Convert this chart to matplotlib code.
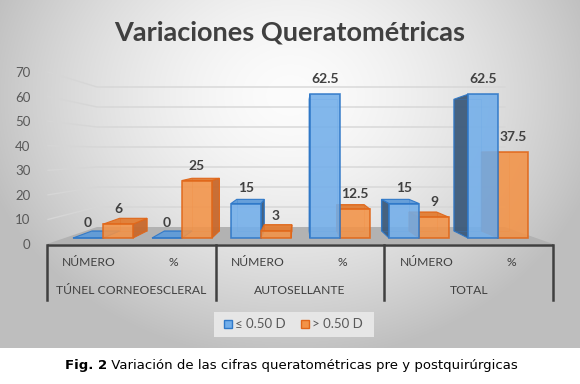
import numpy as np
import matplotlib
matplotlib.use("Agg")
import matplotlib.pyplot as plt
from matplotlib.patches import Polygon, Rectangle

# ---------------- data ----------------
title = "Variaciones Queratométricas"
sub_labels = ["NÚMERO", "%", "NÚMERO", "%", "NÚMERO", "%"]
group_labels = ["TÚNEL CORNEOESCLERAL", "AUTOSELLANTE", "TOTAL"]
series_names = ["≤ 0.50 D", "> 0.50 D"]
low_vals = [0, 0, 15, 62.5, 15, 62.5]       # ≤ 0.50 D
high_vals = [6, 25, 3, 12.5, 9, 37.5]        # > 0.50 D
value_labels_low = ["0", "0", "15", "62.5", "15", "62.5"]
value_labels_high = ["6", "25", "3", "12.5", "9", "37.5"]
y_ticks = [0, 10, 20, 30, 40, 50, 60, 70]
caption_bold = "Fig. 2"
caption_rest = " Variación de las cifras queratométricas pre y postquirúrgicas"

# ---------------- styling ----------------
W, H = 580, 384
FONT = "Lato"
TXT = "#404040"
TICK = "#595959"
BLUE_F, BLUE_E, BLUE_TOP, BLUE_SIDE = "#72aeea", "#2f78c8", "#5f9bd9", "#3d5b7b"
ORNG_F, ORNG_E, ORNG_TOP, ORNG_SIDE = "#f39347", "#e0671a", "#e27d33", "#c7682c"

fig = plt.figure(figsize=(W / 100, H / 100), dpi=100)
fig.patch.set_facecolor("white")


def fx(px):
    return px / W


def fy(py):
    return 1 - py / H


# background gradient (chart area)
CH = 348
bg = fig.add_axes([0, fy(CH), 1, CH / H], zorder=0)
yy, xx = np.mgrid[0:CH, 0:W]
d = np.sqrt(((xx - 290) / 360.0) ** 2 + ((yy - 95) / 300.0) ** 2)
v = np.clip(252 - 75 * d ** 1.6, 190, 252) / 255.0
bg.imshow(np.dstack([v, v, v]), aspect="auto", extent=(0, W, CH, 0))
bg.set_xlim(0, W)
bg.set_ylim(CH, 0)
bg.axis("off")

# decoration axes in pixel coordinates
axd = fig.add_axes([0, 0, 1, 1], zorder=1)
axd.set_xlim(0, W)
axd.set_ylim(H, 0)
axd.axis("off")
axd.patch.set_alpha(0)

# front frame axes (tick labels)
FX0, FX1, FY0, FY1 = 47, 553, 244, 72
axf = fig.add_axes([fx(FX0), fy(FY0), fx(FX1) - fx(FX0), (FY0 - FY1) / H], zorder=2)
axf.set_xlim(0, 6)
axf.set_ylim(0, 70)
axf.patch.set_alpha(0)
for s in axf.spines.values():
    s.set_visible(False)
axf.set_xticks([])
axf.set_yticks(y_ticks)
axf.set_yticklabels([str(t) for t in y_ticks], fontsize=9.5, color=TICK, family=FONT)
axf.tick_params(axis="y", length=0, pad=12)

# back wall axes
WX0, WX1, WY0, WY1 = 97, 505, 227, 87
axw = fig.add_axes([fx(WX0), fy(WY0), fx(WX1) - fx(WX0), (WY0 - WY1) / H], zorder=1)
axw.set_xlim(0, 1)
axw.set_ylim(0, 70)
axw.axis("off")
axw.patch.set_alpha(0)

# bar axes
BX0, BX1, BY0, BSC = 63.5, 537.5, 238, 2.30
axb = fig.add_axes([fx(BX0), fy(BY0), fx(BX1) - fx(BX0), 70 * BSC / H], zorder=3)
axb.set_xlim(-0.5, 5.5)
axb.set_ylim(0, 70)
axb.axis("off")
axb.patch.set_alpha(0)

to_pix = axd.transData.inverted()

# gridlines on back wall + left wall diagonals
for t in y_ticks:
    a = axf.transData.transform((0, t))
    b = axw.transData.transform((0, t))
    c = axw.transData.transform((1, t))
    pa, pb, pc = to_pix.transform([a, b, c])
    if t > 0:
        axd.plot([pa[0] + 1, pb[0], pc[0]], [pa[1], pb[1], pc[1]], color="#d6d6d6", lw=1.0)

# floor
fl = to_pix.transform([
    axf.transData.transform((0, 0)),
    axf.transData.transform((6, 0)),
    axw.transData.transform((1, 0)),
    axw.transData.transform((0, 0)),
])
axd.add_patch(Polygon(fl, closed=True, facecolor="#b2b2b2", edgecolor="none"))

# axis lines below floor and dividers
trf = axf.get_xaxis_transform()
axf.plot([0, 6], [-0.006, -0.006], transform=trf, color=TXT, lw=1.8, clip_on=False,
         solid_capstyle="butt")
for xd in [0, 2, 4, 6]:
    axf.plot([xd, xd], [-0.006, -0.326], transform=trf, color=TXT, lw=1.8, clip_on=False)
for i, lab in enumerate(sub_labels):
    axf.text(i + 0.5, -0.11, lab, transform=trf, ha="center", va="center",
             fontsize=8.7, color=TXT, family=FONT)
for g, lab in enumerate(group_labels):
    axf.text(2 * g + 1, -0.273, lab, transform=trf, ha="center", va="center",
             fontsize=8.7, color=TXT, family=FONT)

# ---------------- 3D-ish bars ----------------
BW = 0.38
VP = np.array([300.0, H - 154.0])   # vanishing point in display coords
S = 0.916
x = np.arange(len(sub_labels))

bars = []
for i in range(len(x)):
    bars.append((x[i] - BW / 2, low_vals[i], BLUE_F, BLUE_E, BLUE_TOP, BLUE_SIDE, value_labels_low[i]))
    bars.append((x[i] + BW / 2, high_vals[i], ORNG_F, ORNG_E, ORNG_TOP, ORNG_SIDE, value_labels_high[i]))

inv = axb.transData.inverted()
vpx_data = inv.transform(VP)[0]
order = sorted(range(len(bars)), key=lambda k: -abs(bars[k][0] - vpx_data))

z = 3
for k in order:
    xc, val, fcol, ecol, tcol, scol, _ = bars[k]
    x0, x1 = xc - BW / 2, xc + BW / 2
    F = axb.transData.transform([(x0, 0), (x1, 0), (x1, val), (x0, val)])
    B = VP + (F - VP) * S
    Fd, Bd = inv.transform(F), inv.transform(B)
    if F[0, 0] > VP[0]:
        side = [Fd[0], Fd[3], Bd[3], Bd[0]]
    elif F[1, 0] < VP[0]:
        side = [Fd[1], Fd[2], Bd[2], Bd[1]]
    else:
        side = None
    if side is not None:
        axb.add_patch(Polygon(side, closed=True, facecolor=scol, edgecolor=ecol,
                              lw=0.8, alpha=0.95, zorder=z, clip_on=False))
    if F[2, 1] < VP[1]:
        top = [Fd[3], Fd[2], Bd[2], Bd[3]]
        axb.add_patch(Polygon(top, closed=True, facecolor=tcol, edgecolor=ecol,
                              lw=0.8, alpha=0.95, zorder=z + 0.1, clip_on=False))
    axb.plot([Bd[0][0], Bd[1][0], Bd[2][0], Bd[3][0], Bd[0][0]],
             [Bd[0][1], Bd[1][1], Bd[2][1], Bd[3][1], Bd[0][1]],
             color=ecol, lw=0.6, alpha=0.35, zorder=z + 0.15, clip_on=False)
    axb.bar([xc], [val], width=BW, color=fcol, edgecolor=ecol, linewidth=1.2,
            alpha=0.88, zorder=z + 0.2, clip_on=False)
    z += 1

for k in range(len(bars)):
    xc, val, *_rest, lab = bars[k]
    axb.annotate(lab, (xc, val), xytext=(0, 15), textcoords="offset pixels",
                 ha="center", va="center", fontsize=10, fontweight="bold",
                 color=TXT, family=FONT, zorder=50, annotation_clip=False)

# title
fig.text(0.5, fy(33), title, ha="center", va="center", fontsize=19.5,
         fontweight="bold", color=TXT, family=FONT)

# legend
axd.add_patch(Rectangle((214, 312), 160, 25, facecolor="#e6e6e6", edgecolor="none"))
axd.add_patch(Rectangle((224, 320), 8, 8, facecolor=BLUE_F, edgecolor=BLUE_E, lw=1))
axd.text(235, 324.5, series_names[0], ha="left", va="center", fontsize=9.5,
         color=TICK, family=FONT)
axd.add_patch(Rectangle((301, 320), 8, 8, facecolor=ORNG_F, edgecolor=ORNG_E, lw=1))
axd.text(312, 324.5, series_names[1], ha="left", va="center", fontsize=9.5,
         color=TICK, family=FONT)

# caption
t1 = fig.text(fx(65), fy(365), caption_bold, ha="left", va="center", fontsize=9.5,
              fontweight="bold", color="black", family="DejaVu Sans")
fig.canvas.draw()
bb = t1.get_window_extent()
fig.text(bb.x1 / W, fy(365), caption_rest, ha="left", va="center", fontsize=9.5,
         color="black", family="DejaVu Sans")

fig.savefig("out.png", dpi=100)
